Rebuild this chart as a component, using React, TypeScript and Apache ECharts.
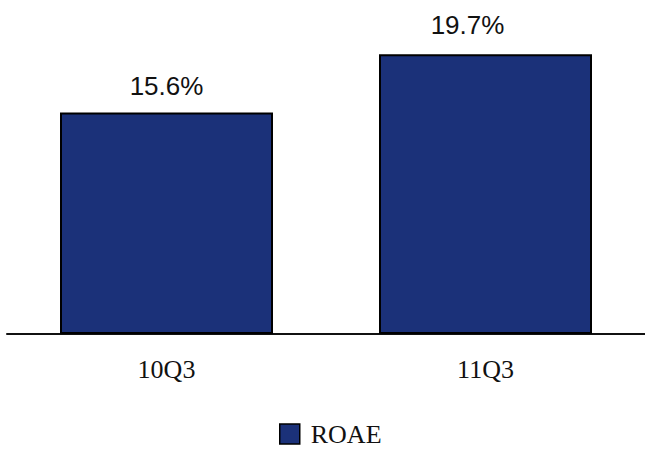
import React, { useEffect, useRef } from "react";
import * as echarts from "echarts";

const categories = ["10Q3", "11Q3"];
const roae = [15.6, 19.7];
const seriesName = "ROAE";

export default function App() {
  const ref = useRef<HTMLDivElement>(null);
  useEffect(() => {
    if (!ref.current) return;
    const chart = echarts.init(ref.current, null, { renderer: "svg" });
    const color = "#1B3179";
    chart.setOption({
      animation: false,
      backgroundColor: "#ffffff",
      grid: { left: 7, top: 50, width: 642, height: 284, containLabel: false },
      legend: {
        data: [seriesName],
        left: 279,
        top: 421,
        padding: 0,
        itemWidth: 20,
        itemHeight: 20,
        icon: "rect",
        itemStyle: { borderColor: "#000", borderWidth: 1.5 },
        textStyle: {
          fontFamily: "Liberation Serif",
          fontSize: 26,
          color: "#111",
          padding: [0, 0, 0, 6],
        },
      },
      xAxis: {
        type: "category",
        data: categories,
        axisLine: { lineStyle: { color: "#111", width: 2 } },
        axisTick: { show: false },
        axisLabel: {
          margin: 22,
          fontFamily: "Liberation Serif",
          fontSize: 26,
          color: "#111",
        },
      },
      yAxis: {
        type: "value",
        min: 0,
        max: 20,
        show: false,
        splitLine: { show: false },
      },
      series: [
        {
          name: seriesName,
          type: "bar",
          barWidth: 213,
          itemStyle: { color, borderColor: "#000", borderWidth: 2 },
          label: {
            show: true,
            position: "top",
            distance: 13,
            formatter: (p: any) => p.value.toFixed(1) + "%",
            fontFamily: "Liberation Sans",
            fontSize: 26,
            color: "#111",
          },
          data: roae.map((v, i) =>
            i === 1 ? { value: v, label: { offset: [-18, -3] } } : { value: v }
          ),
        },
      ],
    });
    return () => chart.dispose();
  }, []);
  return (
    <div
      ref={ref}
      style={{ position: "absolute", left: 0, top: 0, width: 645, height: 452 }}
    />
  );
}
